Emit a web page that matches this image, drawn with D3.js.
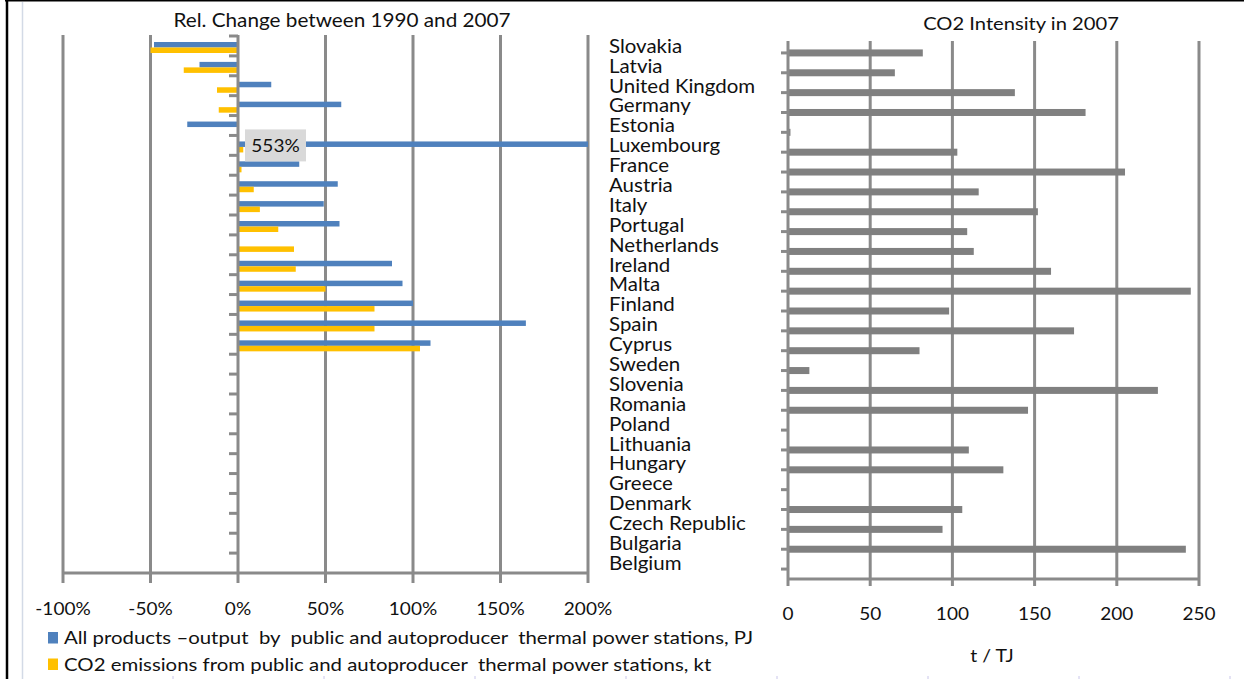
<!DOCTYPE html>
<html>
<head>
<meta charset="utf-8">
<script src="https://cdn.jsdelivr.net/npm/d3@7"></script>
<style>
  html, body { margin: 0; padding: 0; background: #ffffff; }
  svg { display: block; }
  text { font-family: "Lato", "Open Sans", sans-serif; fill: #111; white-space: pre; }
</style>
</head>
<body>
<svg id="chart" width="1244" height="679"></svg>
<script>
// Countries, top to bottom
const countries = [
  "Slovakia", "Latvia", "United Kingdom", "Germany", "Estonia", "Luxembourg",
  "France", "Austria", "Italy", "Portugal", "Netherlands", "Ireland", "Malta",
  "Finland", "Spain", "Cyprus", "Sweden", "Slovenia", "Romania", "Poland",
  "Lithuania", "Hungary", "Greece", "Denmark", "Czech Republic", "Bulgaria", "Belgium"
];

// Relative change 1990-2007: output of thermal power stations (PJ)
const outputChange = [
  -0.48, -0.22, 0.19, 0.59, -0.29, 5.53, 0.35, 0.57, 0.49, 0.58, null, 0.88, 0.94,
  1.00, 1.645, 1.10, null, null, null, null, null, null, null, null, null, null, null
];

// Relative change 1990-2007: CO2 emissions of thermal power stations (kt)
const emissionChange = [
  -0.50, -0.31, -0.12, -0.11, null, 0.03, 0.02, 0.09, 0.125, 0.23, 0.32, 0.33, 0.50,
  0.78, 0.78, 1.04, null, null, null, null, null, null, null, null, null, null, null
];

// CO2 intensity in 2007, t / TJ
const intensity = [
  82, 65, 138, 181, 1.5, 103, 205, 116, 152, 109, 113, 160, 245,
  98, 174, 80, 13, 225, 146, 0, 110, 131, 0, 106, 94, 242, 0
];

const changeTicks = [-1, -0.5, 0, 0.5, 1, 1.5, 2];
const intensityTicks = [0, 50, 100, 150, 200, 250];

const legendItems = [
  { label: "All products \u2013output  by  public and autoproducer  thermal power stations, PJ", color: "#4f81bd" },
  { label: "CO2 emissions from public and autoproducer  thermal power stations, kt", color: "#ffc000" }
];

const GRID = "#8a8a8a";
const SX = 1.12; // horizontal text stretch of the exported figure
const svg = d3.select("#chart");

// place a horizontally stretched text item
function label(sel, x, y, size, anchor) {
  return sel
    .attr("x", 0).attr("y", 0)
    .attr("transform", function (d, i) {
      const xx = typeof x === "function" ? x(d, i) : x;
      const yy = typeof y === "function" ? y(d, i) : y;
      return `translate(${xx},${yy}) scale(${SX},1)`;
    })
    .attr("text-anchor", anchor || "start")
    .style("font-size", size + "px");
}

// page frame
svg.append("line").attr("x1", 5).attr("x2", 1244).attr("y1", 0.75).attr("y2", 0.75)
  .attr("stroke", "#000").attr("stroke-width", 1.5);
svg.append("line").attr("x1", 7).attr("x2", 7).attr("y1", 0).attr("y2", 679)
  .attr("stroke", "#000").attr("stroke-width", 2.5);
svg.append("line").attr("x1", 22.5).attr("x2", 22.5).attr("y1", 2).attr("y2", 679)
  .attr("stroke", "#d3dae6").attr("stroke-width", 1.5);
svg.append("g").selectAll("line")
  .data(d3.range(8))
  .join("line")
  .attr("x1", i => 173 + i * 151).attr("x2", i => 173 + i * 151)
  .attr("y1", 676).attr("y2", 679)
  .attr("stroke", "#c9c6ea").attr("stroke-width", 1);

/* ---------- Left chart: relative change ---------- */
const xL = d3.scaleLinear().domain([-1, 2]).range([63, 588]).clamp(true);
const yL = d3.scaleBand().domain(countries).range([36, 573]).paddingInner(0).paddingOuter(0);
const L = svg.append("g");

label(L.append("text"), 342, 27, 18.5, "middle")
  .text("Rel. Change between 1990 and 2007");

// vertical gridlines
L.append("g").selectAll("line")
  .data(changeTicks.filter(d => d !== 0))
  .join("line")
  .attr("x1", d => xL(d)).attr("x2", d => xL(d))
  .attr("y1", 35).attr("y2", 573)
  .attr("stroke", GRID).attr("stroke-width", 3);

// bars
const bw = yL.bandwidth();
L.append("g").selectAll("rect")
  .data(countries.map((c, i) => ({ c, v: outputChange[i] })).filter(d => d.v !== null))
  .join("rect")
  .attr("x", d => Math.min(xL(d.v), xL(0)))
  .attr("width", d => Math.abs(xL(d.v) - xL(0)))
  .attr("y", d => yL(d.c) + 6)
  .attr("height", 5.5)
  .attr("fill", legendItems[0].color);

L.append("g").selectAll("rect")
  .data(countries.map((c, i) => ({ c, v: emissionChange[i] })).filter(d => d.v !== null))
  .join("rect")
  .attr("x", d => Math.min(xL(d.v), xL(0)))
  .attr("width", d => Math.abs(xL(d.v) - xL(0)))
  .attr("y", d => yL(d.c) + 11.5)
  .attr("height", 5.5)
  .attr("fill", legendItems[1].color);

// bottom axis
const axL = L.append("g");
axL.append("line")
  .attr("x1", xL(-1)).attr("x2", xL(2)).attr("y1", 573).attr("y2", 573)
  .attr("stroke", GRID).attr("stroke-width", 3);
axL.selectAll("line.tk")
  .data(changeTicks)
  .join("line").attr("class", "tk")
  .attr("x1", d => xL(d)).attr("x2", d => xL(d))
  .attr("y1", 573).attr("y2", 583)
  .attr("stroke", GRID).attr("stroke-width", 3);
label(axL.selectAll("text").data(changeTicks).join("text"), d => xL(d), 615, 17, "middle")
  .text(d => Math.round(d * 100) + "%");

// category axis at zero
L.append("line")
  .attr("x1", xL(0)).attr("x2", xL(0)).attr("y1", 35).attr("y2", 573)
  .attr("stroke", GRID).attr("stroke-width", 3);
L.append("g").selectAll("line")
  .data(countries)
  .join("line")
  .attr("x1", xL(0) - 9).attr("x2", xL(0))
  .attr("y1", d => yL(d)).attr("y2", d => yL(d))
  .attr("stroke", GRID).attr("stroke-width", 3);

// value label of the clipped bar
const lux = countries.indexOf("Luxembourg");
const luxLabel = L.append("g")
  .attr("transform", `translate(${xL(0) + 7},${yL(countries[lux]) + bw / 2})`);
luxLabel.append("rect")
  .attr("x", 0).attr("y", -16).attr("width", 61).attr("height", 32)
  .attr("fill", "#d9d9d9");
label(luxLabel.append("text"), 30.5, 6.5, 17, "middle")
  .text(Math.round(outputChange[lux] * 100) + "%");

// country labels
label(svg.append("g").selectAll("text").data(countries).join("text"),
      609, d => yL(d) + bw / 2 + 6.8, 18.3, "start")
  .text(d => d);

/* ---------- Right chart: CO2 intensity ---------- */
const xR = d3.scaleLinear().domain([0, 250]).range([788, 1199]);
const yR = d3.scaleBand().domain(countries).range([43, 579]);
const R = svg.append("g");

label(R.append("text"), 1021, 30, 18, "middle")
  .text("CO2 Intensity in 2007");

R.append("g").selectAll("line")
  .data(intensityTicks.filter(d => d !== 0))
  .join("line")
  .attr("x1", d => xR(d)).attr("x2", d => xR(d))
  .attr("y1", 41).attr("y2", 579)
  .attr("stroke", GRID).attr("stroke-width", 3);

R.append("g").selectAll("rect")
  .data(countries.map((c, i) => ({ c, v: intensity[i] })))
  .join("rect")
  .attr("x", xR(0))
  .attr("width", d => xR(d.v) - xR(0))
  .attr("y", d => yR(d.c) + yR.bandwidth() / 2 - 3.5)
  .attr("height", 7)
  .attr("fill", "#808080");

R.append("line")
  .attr("x1", xR(0)).attr("x2", xR(250)).attr("y1", 579).attr("y2", 579)
  .attr("stroke", GRID).attr("stroke-width", 3);
R.append("g").selectAll("line")
  .data(intensityTicks)
  .join("line")
  .attr("x1", d => xR(d)).attr("x2", d => xR(d))
  .attr("y1", 579).attr("y2", 586)
  .attr("stroke", GRID).attr("stroke-width", 3);
label(R.append("g").selectAll("text").data(intensityTicks).join("text"),
      d => xR(d), 620, 17, "middle")
  .text(d => d);

R.append("line")
  .attr("x1", xR(0)).attr("x2", xR(0)).attr("y1", 41).attr("y2", 579)
  .attr("stroke", GRID).attr("stroke-width", 3);
R.append("g").selectAll("line")
  .data(countries)
  .join("line")
  .attr("x1", xR(0) - 7).attr("x2", xR(0))
  .attr("y1", d => yR(d) + yR.bandwidth() / 2)
  .attr("y2", d => yR(d) + yR.bandwidth() / 2)
  .attr("stroke", GRID).attr("stroke-width", 3);

label(R.append("text"), 992, 662, 17.4, "middle")
  .text("t / TJ");

/* ---------- Legend ---------- */
const lg = svg.append("g").selectAll("g")
  .data(legendItems)
  .join("g")
  .attr("transform", (d, i) => `translate(48,${632 + i * 26.5})`);
lg.append("rect").attr("width", 10).attr("height", 11.5).attr("fill", d => d.color);
label(lg.append("text"), 16, 12, 18.2, "start")
  .text(d => d.label);
</script>
</body>
</html>
